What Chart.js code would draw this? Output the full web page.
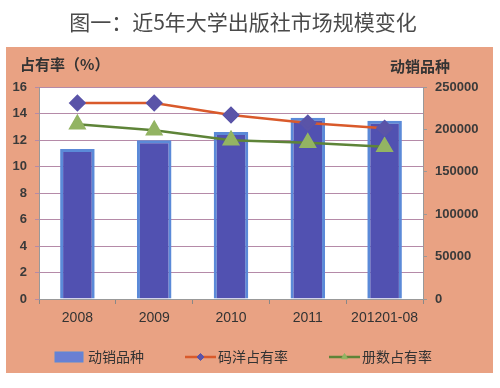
<!DOCTYPE html>
<html>
<head>
<meta charset="utf-8">
<script src="https://cdn.jsdelivr.net/npm/chart.js@4/dist/chart.umd.min.js"></script>
<style>
  html, body { margin: 0; padding: 0; background: #fff; }
  #wrap { width: 500px; height: 388px; }
</style>
</head>
<body>
<div id="wrap"><canvas id="marketChart"></canvas></div>
<script>
const years = ['2008', '2009', '2010', '2011', '201201-08'];
const activeTitles = [177000, 187500, 197000, 214000, 210500];   // 动销品种
const valueShare = [14.8, 14.8, 13.9, 13.3, 12.9];                // 码洋占有率
const volumeShare = [13.2, 12.75, 12.0, 11.8, 11.5];              // 册数占有率
const shareTicks = [0, 16, 2];
const titleTicks = [0, 250000, 50000];

const FONT = '"Liberation Sans", "Noto Sans CJK SC", sans-serif';
const CJK = '"Noto Sans CJK SC", sans-serif';

// orange panel + white plot area
const panelBg = {
    id: 'panelBg',
    beforeDraw(chart) {
        const { ctx, chartArea: a } = chart;
        ctx.save();
        ctx.fillStyle = '#e9a283';
        ctx.fillRect(6, 47, 487, 326);
        ctx.fillStyle = '#ffffff';
        ctx.fillRect(a.left, a.top, a.right - a.left, a.bottom - a.top);
        ctx.restore();
    }
};

// axis titles and legend
const extras = {
    id: 'extras',
    afterDraw(chart) {
        const { ctx } = chart;
        ctx.save();
        ctx.fillStyle = '#333';
        ctx.font = 'bold 15px ' + CJK;
        ctx.textBaseline = 'middle';
        ctx.textAlign = 'left';
        ctx.fillText('占有率（%）', 20, 64);
        ctx.fillText('动销品种', 390, 66);

        const ds = chart.data.datasets;
        const y = 357;
        ctx.font = '14px ' + CJK;
        // bar item
        ctx.fillStyle = '#6a7fd2';
        ctx.fillRect(55, y - 5, 28, 10);
        ctx.strokeStyle = '#5b8ad8';
        ctx.lineWidth = 1;
        ctx.strokeRect(55, y - 5, 28, 10);
        ctx.fillStyle = '#333';
        ctx.fillText(ds[0].label, 88, y);

        // line items
        const items = [[185, ds[1]], [329, ds[2]]];
        items.forEach(([x, d]) => {
            ctx.strokeStyle = d.borderColor;
            ctx.lineWidth = 2.5;
            ctx.beginPath();
            ctx.moveTo(x, y);
            ctx.lineTo(x + 31, y);
            ctx.stroke();
            ctx.fillStyle = d.pointBackgroundColor;
            ctx.strokeStyle = d.pointBorderColor;
            ctx.lineWidth = 1;
            Chart.helpers.drawPoint(ctx, {
                pointStyle: d.pointStyle, radius: 3.5, borderWidth: 1, rotation: 0
            }, x + 15.5, y);
            ctx.fillStyle = '#333';
            ctx.fillText(d.label, x + 33, y);
        });
        ctx.restore();
    }
};

const plainNumber = v => String(v);

const ctx = document.getElementById('marketChart').getContext('2d');
new Chart(ctx, {
    type: 'bar',
    data: {
        labels: years,
        datasets: [{
            label: '动销品种',
            data: activeTitles,
            yAxisID: 'y1',
            backgroundColor: '#5151b1',
            borderColor: '#5b8ad8',
            borderWidth: 3,
            categoryPercentage: 0.9,
            barPercentage: 0.5,
            order: 3
        }, {
            type: 'line',
            label: '码洋占有率',
            data: valueShare,
            yAxisID: 'y',
            borderColor: '#d95a2b',
            borderWidth: 2.5,
            pointStyle: 'rectRot',
            pointRadius: 7,
            pointBackgroundColor: '#5a54a8',
            pointBorderColor: '#5a54a8',
            tension: 0,
            order: 1
        }, {
            type: 'line',
            label: '册数占有率',
            data: volumeShare,
            yAxisID: 'y',
            borderColor: '#5e8438',
            borderWidth: 2.5,
            pointStyle: 'triangle',
            pointRadius: 8,
            pointBackgroundColor: '#93b463',
            pointBorderColor: '#93b463',
            tension: 0,
            order: 2
        }]
    },
    options: {
        responsive: true,
        maintainAspectRatio: false,
        animation: false,
        layout: { padding: { left: 0, right: 14, top: 0, bottom: 49 } },
        plugins: {
            legend: { display: false },
            tooltip: { enabled: false },
            title: {
                display: true,
                text: '图一：近5年大学出版社市场规模变化',
                color: '#4a4a4a',
                font: { family: CJK, size: 21, weight: 'normal' },
                padding: { top: 9, bottom: 53 }
            }
        },
        scales: {
            x: {
                grid: { offset: true, drawOnChartArea: false, tickLength: 5, color: '#888' },
                border: { color: '#999' },
                ticks: { color: '#333', font: { family: FONT, size: 14 }, padding: 6 },
                afterFit(s) { s.height = 40; }
            },
            y: {
                position: 'left',
                min: shareTicks[0],
                max: shareTicks[1],
                ticks: { stepSize: shareTicks[2], color: '#3a3a3a', font: { family: FONT, size: 13, weight: 'bold' }, padding: 8, callback: plainNumber },
                grid: { color: '#b58aa8', tickLength: 4, lineWidth: 1 },
                border: { color: '#999' },
                afterFit(s) { s.width = 39; }
            },
            y1: {
                position: 'right',
                min: titleTicks[0],
                max: titleTicks[1],
                ticks: { stepSize: titleTicks[2], color: '#3a3a3a', font: { family: FONT, size: 13, weight: 'bold' }, padding: 8, callback: plainNumber },
                grid: { drawOnChartArea: false, tickLength: 4, color: '#999' },
                border: { color: '#999' },
                afterFit(s) { s.width = 63; }
            }
        }
    },
    plugins: [panelBg, extras]
});
</script>
</body>
</html>
